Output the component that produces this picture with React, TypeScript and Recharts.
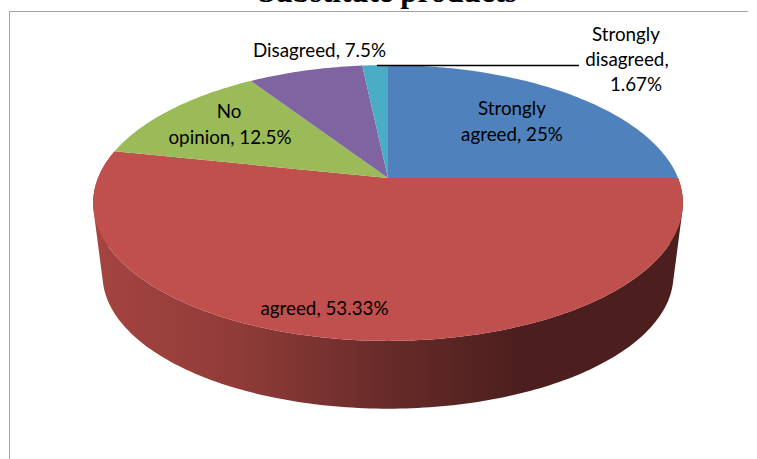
import { PieChart, Pie, Cell } from "recharts"

const categories = ["Strongly agreed", "agreed", "No opinion", "Disagreed", "Strongly disagreed"]
const percents = [25, 53.33, 12.5, 7.5, 1.67]
const colors = ["#4F81BD", "#C0504D", "#9BBB59", "#8064A2", "#4BACC6"]

const data = categories.map((name, i) => ({ name, value: percents[i] }))

// Label lines as they break in the picture, [text, centre x, baseline y]
const labelLines: [string, number, number][][] = [
  [["Strongly", 512, 115], ["agreed, 25%", 512, 141]],
  [["agreed, 53.33%", 324.5, 315]],
  [["No", 229, 118], ["opinion, 12.5%", 230, 144]],
  [["Disagreed, 7.5%", 319.5, 57]],
  [["Strongly", 626, 41], ["disagreed,", 627, 66], ["1.67%", 636, 91]],
]

// Perspective of the tilted disc
const TILT = 0.181
const FLATTEN = 0.46
// Where the underside rim sits compared with the top rim
const BOTTOM_SCALE = 0.968
const BOTTOM_DROP = 73

const rim = (cx: number, cy: number, r: number, deg: number, bottom = false) => {
  const a = (deg * Math.PI) / 180
  const w = 1 + TILT * Math.sin(a)
  const s = bottom ? BOTTOM_SCALE : 1
  const x = cx + (s * r * Math.cos(a)) / w
  const y = cy + (bottom ? BOTTOM_DROP : 0) - (s * r * FLATTEN * Math.sin(a)) / w
  return [x, y]
}

const angleSteps = (from: number, to: number) => {
  const n = Math.max(2, Math.ceil(Math.abs(to - from)))
  return Array.from({ length: n + 1 }, (_, i) => from + ((to - from) * i) / n)
}

// All quads wound the same way, otherwise overlaps cancel out near the sides
const quadPath = (pts: number[][]) => {
  let area = 0
  pts.forEach((p, i) => {
    const q = pts[(i + 1) % pts.length]
    area += p[0] * q[1] - q[0] * p[1]
  })
  const ordered = area < 0 ? [...pts].reverse() : pts
  return "M" + ordered.map((p) => p.join(",")).join("L") + "Z"
}

function Slice3D(props: any) {
  const { cx, cy, outerRadius, startAngle, endAngle, fill, index } = props
  const steps = angleSteps(startAngle, endAngle)
  const top = steps.map((d) => rim(cx, cy, outerRadius, d))
  const face = `M${cx},${cy}L` + top.map((p) => p.join(",")).join("L") + "Z"

  // Only the big front slice shows its wall
  let wall = ""
  if (index === 1) {
    const bot = steps.map((d) => rim(cx, cy, outerRadius, d, true))
    for (let i = 0; i < steps.length - 1; i++) {
      wall += quadPath([top[i], top[i + 1], bot[i + 1], bot[i]])
    }
  }
  return (
    <g>
      {wall && <path d={wall} fill="url(#wallShade)" stroke="none" />}
      <path d={face} fill={fill} stroke="none" />
    </g>
  )
}

function SliceLabel(props: any) {
  const lines = labelLines[props.index]
  return (
    <g>
      {props.index === 4 && <line x1={377} y1={65.5} x2={579} y2={65.5} stroke="#000" strokeWidth={1.5} />}
      {lines.map(([text, x, y]) => (
        <text key={text} x={x} y={y} textAnchor="middle" fontFamily="Lato" fontSize={18.8} fill="#000">
          {text}
        </text>
      ))}
    </g>
  )
}

export default function App() {
  return (
    <div style={{ position: "absolute", left: 0, top: 0, width: 757, height: 459, overflow: "hidden", background: "#fff" }}>
      <div style={{ position: "absolute", left: 9, top: 11, width: 738, height: 448, borderLeft: "1.5px solid #a3a3a3", borderTop: "1.5px solid #a3a3a3" }} />
      <div
        style={{
          position: "absolute",
          left: 0,
          width: 775,
          top: -24,
          textAlign: "center",
          fontFamily: "Liberation Serif",
          fontWeight: "bold",
          fontSize: 31,
          lineHeight: "32px",
          color: "#000",
        }}
      >
        Substitute products
      </div>
      <div style={{ position: "absolute", left: 0, top: 0 }}>
        <PieChart width={757} height={459} margin={{ top: 0, right: 0, bottom: 0, left: 0 }}>
          <defs>
            <linearGradient id="wallShade" gradientUnits="userSpaceOnUse" x1={94} y1={0} x2={683} y2={0}>
              <stop offset="0" stopColor="#A54441" />
              <stop offset="0.25" stopColor="#8F3B38" />
              <stop offset="0.5" stopColor="#672B29" />
              <stop offset="0.72" stopColor="#4C1F1E" />
              <stop offset="1" stopColor="#4C1F1E" />
            </linearGradient>
          </defs>
          <Pie
            data={data}
            dataKey="value"
            nameKey="name"
            cx={388}
            cy={178}
            innerRadius={0}
            outerRadius={290}
            startAngle={90}
            endAngle={-270}
            stroke="none"
            shape={Slice3D}
            label={SliceLabel}
            labelLine={false}
            isAnimationActive={false}
          >
            {data.map((d, i) => (
              <Cell key={d.name} fill={colors[i]} />
            ))}
          </Pie>
        </PieChart>
      </div>
    </div>
  )
}
